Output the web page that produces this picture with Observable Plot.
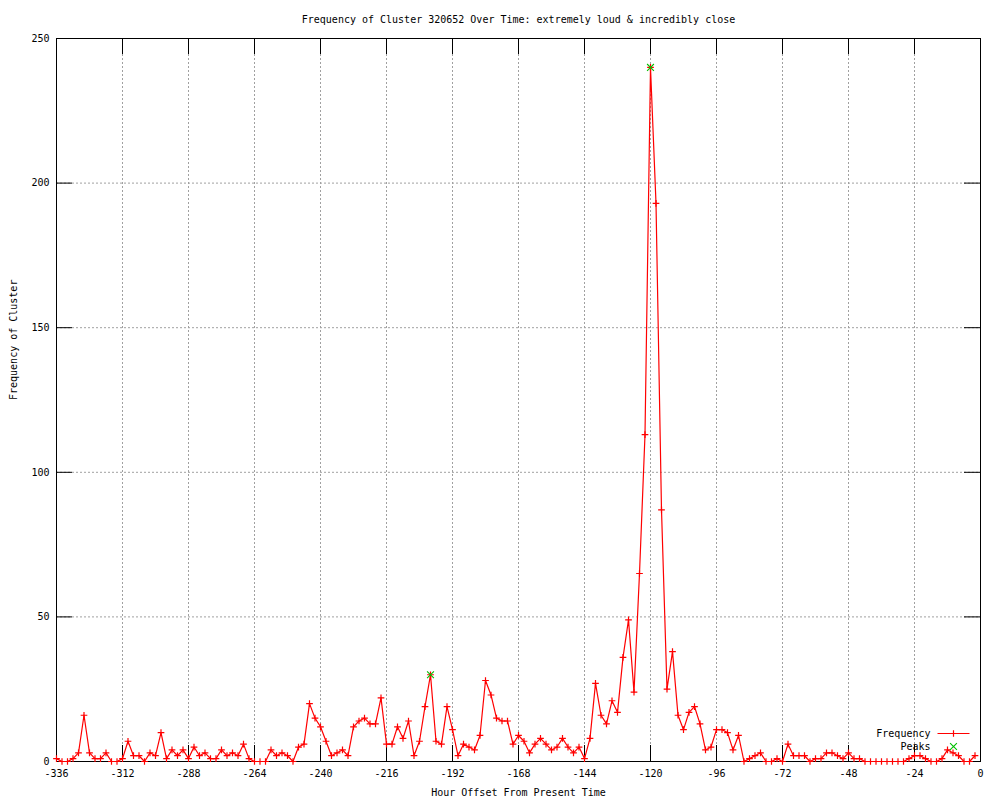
<!DOCTYPE html>
<html>
<head>
<meta charset="utf-8">
<script src="https://cdn.jsdelivr.net/npm/d3@7"></script>
<script src="https://cdn.jsdelivr.net/npm/@observablehq/plot@0.6"></script>
<style>
  html, body { margin: 0; padding: 0; background: #ffffff; }
  #chart { width: 1000px; height: 800px; }
</style>
</head>
<body>
<div id="chart"></div>
<script>
// ---- data ----
const titleText = "Frequency of Cluster 320652 Over Time: extremely loud & incredibly close";
const xLabelText = "Hour Offset From Present Time";
const yLabelText = "Frequency of Cluster";
const legendLabels = ["Frequency", "Peaks"];

const startHour = -336;   // first sample
const stepHours = 2;      // sampling interval (hours)
const frequencyValues = [
  1,0,0,1,3,16,3,1,1,3,
  0,0,1,7,2,2,0,3,2,10,
  1,4,2,4,1,5,2,3,1,1,
  4,2,3,2,6,1,0,0,0,4,
  2,3,2,0,5,6,20,15,12,7,
  2,3,4,2,12,14,15,13,13,22,
  6,6,12,8,14,2,7,19,30,7,
  6,19,11,2,6,5,4,9,28,23,
  15,14,14,6,9,7,3,6,8,6,
  4,5,8,5,3,5,1,8,27,16,
  13,21,17,36,49,24,65,113,240,193,
  87,25,38,16,11,17,19,13,4,5,
  11,11,10,4,9,0,1,2,3,0,
  0,1,0,6,2,2,2,0,1,1,
  3,3,2,1,3,1,1,0,0,0,
  0,0,0,0,0,1,2,2,1,0,
  0,1,4,3,2,0,0,2
];
const peakHours = [-200, -120];
const peakValues = [30, 240];

const xTicks = [-336,-312,-288,-264,-240,-216,-192,-168,-144,-120,-96,-72,-48,-24,0];
const yTicks = [0,50,100,150,200,250];

// ---- tables ----
const freq = frequencyValues.map((v, i) => ({hour: startHour + i * stepHours, value: v}));
const peaks = peakHours.map((h, i) => ({hour: h, value: peakValues[i]}));

const W = 1000, H = 800;
const mL = 56, mR = 20, mT = 38, mB = 39;
const innerW = W - mL - mR, innerH = H - mT - mB;
const tickLen = 16;
const font = "'DejaVu Sans Mono', 'Liberation Mono', monospace";
const RED = "#ff0000", GREEN = "#00c000", GRID = "#a0a0a0";
const plusR = 2.3, timesR = 3.2;

const chart = Plot.plot({
  width: W, height: H,
  marginLeft: mL, marginRight: mR, marginTop: mT, marginBottom: mB,
  style: {fontFamily: font, fontSize: "10px", background: "#ffffff", color: "#000000", overflow: "visible"},
  x: {domain: [-336, 0], label: null},
  y: {domain: [0, 250], label: null},
  marks: [
    // dotted grid
    Plot.gridX(xTicks.slice(1, -1), {stroke: GRID, strokeOpacity: 1, strokeDasharray: "2,2", strokeWidth: 1}),
    Plot.gridY(yTicks.slice(1, -1), {stroke: GRID, strokeOpacity: 1, strokeDasharray: "2,2", strokeWidth: 1}),
    // inward ticks (bottom/top, left/right)
    Plot.ruleX(xTicks, {x: d => d, insetTop: innerH - tickLen, stroke: "#000"}),
    Plot.ruleX(xTicks, {x: d => d, insetBottom: innerH - tickLen, stroke: "#000"}),
    Plot.ruleY(yTicks, {y: d => d, insetRight: innerW - tickLen, stroke: "#000"}),
    Plot.ruleY(yTicks, {y: d => d, insetLeft: innerW - tickLen, stroke: "#000"}),
    Plot.frame({stroke: "#000", strokeWidth: 1}),
    // axes labels
    Plot.axisX(xTicks, {tickSize: 0, tickPadding: 8, tickFormat: d => String(d), fill: "#000", fontSize: 10}),
    Plot.axisY(yTicks, {tickSize: 0, tickPadding: 7, tickFormat: d => String(d), fill: "#000", fontSize: 10}),
    // data
    Plot.line(freq, {x: "hour", y: "value", stroke: RED, strokeWidth: 1.2}),
    Plot.dot(freq, {x: "hour", y: "value", symbol: "plus", r: plusR, stroke: RED, strokeWidth: 1.2}),
    Plot.dot(peaks, {x: "hour", y: "value", symbol: "times", r: timesR, stroke: GREEN, strokeWidth: 1.1}),
    // titles
    Plot.text([titleText], {frameAnchor: "top", dy: -19, lineAnchor: "middle", fontSize: 10, fill: "#000"}),
    Plot.text([xLabelText], {frameAnchor: "bottom", dy: 31, lineAnchor: "middle", fontSize: 10, fill: "#000"}),
    Plot.text([yLabelText], {frameAnchor: "left", dx: -43, rotate: -90, lineAnchor: "middle", fontSize: 10, fill: "#000"}),
    // legend labels
    Plot.text([legendLabels[0]], {frameAnchor: "bottom-right", dx: -50, dy: -28, textAnchor: "end", lineAnchor: "middle", fontSize: 10, fill: "#000"}),
    Plot.text([legendLabels[1]], {frameAnchor: "bottom-right", dx: -50, dy: -15, textAnchor: "end", lineAnchor: "middle", fontSize: 10, fill: "#000"})
  ]
});
document.getElementById("chart").appendChild(chart);

// legend samples (line + symbols), positioned relative to the frame's bottom-right corner
const svg = d3.select(chart);
const fx = W - mR, fy = H - mB;
const g = svg.append("g").attr("transform", "translate(0.5,0.5)");
const ly1 = fy - 28, ly2 = fy - 15;
g.append("line").attr("x1", fx - 43).attr("x2", fx - 11).attr("y1", ly1).attr("y2", ly1)
  .attr("stroke", RED).attr("stroke-width", 1.2);
g.append("path").attr("transform", `translate(${fx - 27},${ly1})`)
  .attr("d", d3.symbol(d3.symbolPlus, Math.PI * plusR * plusR)()).attr("stroke", RED).attr("stroke-width", 1.2).attr("fill", "none");
g.append("path").attr("transform", `translate(${fx - 27},${ly2})`)
  .attr("d", d3.symbol(d3.symbolTimes, Math.PI * timesR * timesR)()).attr("stroke", GREEN).attr("stroke-width", 1.1).attr("fill", "none");
</script>
</body>
</html>
